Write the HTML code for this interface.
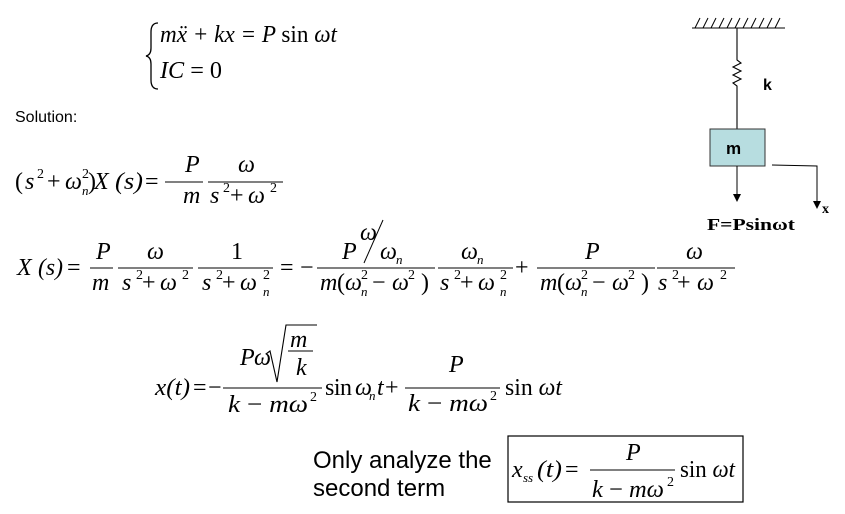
<!DOCTYPE html>
<html><head><meta charset="utf-8"><style>
html,body{margin:0;padding:0;background:#fff;}
svg{display:block}
text{font-family:"Liberation Serif",serif;fill:#000}
.i{font-style:italic;font-size:24px}
.n{font-size:24px}
.p{font-size:14px;font-style:normal}
.b{font-size:13px;font-style:italic}
.sans{font-family:"Liberation Sans",sans-serif}
line{stroke:#000;stroke-width:1}
</style></head><body>
<svg width="845" height="514" viewBox="0 0 845 514">
<g>
<path d="M158,23 Q151,23 151,32 L151,48 Q151,55 146,56 Q151,57 151,64 L151,80 Q151,89 158,89" fill="none" stroke="#000" stroke-width="1.3"/>
<text class="i" x="160" y="42" textLength="177" lengthAdjust="spacingAndGlyphs">mẍ + kx = P <tspan font-style="normal">sin</tspan> ωt</text>
<text class="i" x="160" y="78" textLength="62" lengthAdjust="spacingAndGlyphs">IC <tspan font-style="normal">= 0</tspan></text>
</g>
<text class="sans" x="15" y="122" font-size="16">Solution:</text>

<g>
<text class="n" x="15" y="189">(</text><text class="i" x="25" y="189">s</text><text class="p" x="37" y="178">2</text>
<text class="n" x="47" y="189" textLength="15">+</text><text class="i" x="65" y="189">ω</text><text class="p" x="82" y="178">2</text><text class="b" x="82" y="195">n</text>
<text class="n" x="88" y="189">)</text><text class="i" x="94" y="189">X</text><text class="i" x="115" y="189" textLength="28" lengthAdjust="spacingAndGlyphs">(s)</text>
<text class="n" x="145" y="189" textLength="15">=</text>
<line x1="165" y1="182" x2="203" y2="182"/><text class="i" x="185" y="172">P</text><text class="i" x="183" y="203">m</text>
<line x1="208" y1="182" x2="283" y2="182"/><text class="i" x="238" y="172">ω</text>
<text class="i" x="210" y="203">s</text><text class="p" x="223" y="192">2</text><text class="n" x="230" y="203" textLength="14">+</text><text class="i" x="248" y="203">ω</text><text class="p" x="270" y="192">2</text>
</g>

<g>
<text class="i" x="17" y="275">X</text><text class="i" x="38" y="275" textLength="25" lengthAdjust="spacingAndGlyphs">(s)</text><text class="n" x="67" y="275" textLength="15">=</text>
<line x1="90" y1="268" x2="113" y2="268"/><text class="i" x="96" y="259">P</text><text class="i" x="92" y="290">m</text>
<line x1="118" y1="268" x2="193" y2="268"/><text class="i" x="147" y="259">ω</text>
<text class="i" x="122" y="290">s</text><text class="p" x="136" y="279">2</text><text class="n" x="142" y="290" textLength="13">+</text><text class="i" x="160" y="290">ω</text><text class="p" x="182" y="279">2</text>
<line x1="198" y1="268" x2="273" y2="268"/><text class="n" x="231" y="259">1</text>
<text class="i" x="202" y="290">s</text><text class="p" x="216" y="279">2</text><text class="n" x="222" y="290" textLength="13">+</text><text class="i" x="240" y="290">ω</text><text class="p" x="263" y="279">2</text><text class="b" x="263" y="296">n</text>
<text class="n" x="280" y="275" textLength="17">=</text><text class="n" x="300" y="275" textLength="12">−</text>
<line x1="317" y1="268" x2="435" y2="268"/>
<text class="i" x="342" y="259">P</text><text class="i" x="360" y="240" font-size="18">ω</text>
<line x1="383" y1="220" x2="364" y2="263"/>
<text class="i" x="380" y="259">ω</text><text class="b" x="396" y="264">n</text>
<text class="i" x="320" y="290">m</text><text class="n" x="337" y="290">(</text><text class="i" x="345" y="290">ω</text><text class="p" x="361" y="279">2</text><text class="b" x="361" y="296">n</text><text class="n" x="372" y="290" textLength="12">−</text><text class="i" x="392" y="290">ω</text><text class="p" x="408" y="279">2</text><text class="n" x="421" y="290">)</text>
<line x1="438" y1="268" x2="513" y2="268"/><text class="i" x="461" y="259">ω</text><text class="b" x="477" y="264">n</text>
<text class="i" x="440" y="290">s</text><text class="p" x="454" y="279">2</text><text class="n" x="460" y="290" textLength="13">+</text><text class="i" x="478" y="290">ω</text><text class="p" x="500" y="279">2</text><text class="b" x="500" y="296">n</text>
<text class="n" x="515" y="275" textLength="16">+</text>
<line x1="537" y1="268" x2="655" y2="268"/><text class="i" x="585" y="259">P</text>
<text class="i" x="540" y="290">m</text><text class="n" x="557" y="290">(</text><text class="i" x="565" y="290">ω</text><text class="p" x="581" y="279">2</text><text class="b" x="581" y="296">n</text><text class="n" x="592" y="290" textLength="12">−</text><text class="i" x="612" y="290">ω</text><text class="p" x="628" y="279">2</text><text class="n" x="641" y="290">)</text>
<line x1="657" y1="268" x2="735" y2="268"/><text class="i" x="686" y="259">ω</text>
<text class="i" x="658" y="290">s</text><text class="p" x="672" y="279">2</text><text class="n" x="677" y="290" textLength="13">+</text><text class="i" x="697" y="290">ω</text><text class="p" x="720" y="279">2</text>
</g>

<g>
<text class="i" x="155" y="395" textLength="35" lengthAdjust="spacingAndGlyphs">x(t)</text><text class="n" x="193" y="395" textLength="14">=</text><text class="n" x="208" y="395" textLength="10">−</text>
<line x1="223" y1="388" x2="322" y2="388"/>
<text class="i" x="240" y="365">P</text><text class="i" x="254" y="365">ω</text>
<path d="M266,354 L270,351 L277,382 L286,325 L317,325" fill="none" stroke="#000" stroke-width="1.1"/>
<text class="i" x="290" y="347">m</text><line x1="288" y1="351" x2="313" y2="351"/><text class="i" x="296" y="375">k</text>
<text class="i" x="228" y="412" textLength="80" lengthAdjust="spacingAndGlyphs">k <tspan font-style="normal">−</tspan> mω</text><text class="p" x="310" y="401">2</text>
<text class="n" x="325" y="395" textLength="27">sin</text><text class="i" x="355" y="395">ω</text><text class="b" x="369" y="400">n</text><text class="i" x="377" y="395">t</text>
<text class="n" x="385" y="395" textLength="15">+</text>
<line x1="405" y1="388" x2="500" y2="388"/><text class="i" x="449" y="372">P</text>
<text class="i" x="408" y="411" textLength="80" lengthAdjust="spacingAndGlyphs">k <tspan font-style="normal">−</tspan> mω</text><text class="p" x="490" y="400">2</text>
<text class="i" x="505" y="395" textLength="57" lengthAdjust="spacingAndGlyphs"><tspan font-style="normal">sin</tspan> ωt</text>
</g>

<text class="sans" x="313" y="468" font-size="24">Only analyze the</text>
<text class="sans" x="313" y="496" font-size="24">second term</text>
<g>
<rect x="508" y="436" width="235" height="66" fill="none" stroke="#000" stroke-width="1.2"/>
<text class="i" x="512" y="477">x</text><text class="b" x="523" y="482" font-size="11">ss</text>
<text class="i" x="537" y="477" textLength="25" lengthAdjust="spacingAndGlyphs">(t)</text><text class="n" x="565" y="477" textLength="17">=</text>
<line x1="590" y1="470" x2="675" y2="470"/><text class="i" x="626" y="460">P</text>
<text class="i" x="592" y="497" textLength="72" lengthAdjust="spacingAndGlyphs">k <tspan font-style="normal">−</tspan> mω</text><text class="p" x="667" y="486">2</text>
<text class="i" x="680" y="477" textLength="55" lengthAdjust="spacingAndGlyphs"><tspan font-style="normal">sin</tspan> ωt</text>
</g>

<g>
<line x1="692" y1="28" x2="785" y2="28" stroke-width="1.2"/>
<path d="M695,28 l5,-10 M703,28 l5,-10 M711,28 l5,-10 M719,28 l5,-10 M727,28 l5,-10 M735,28 l5,-10 M743,28 l5,-10 M751,28 l5,-10 M759,28 l5,-10 M767,28 l5,-10 M775,28 l5,-10" stroke="#000" stroke-width="1"/>
<path d="M737,28 L737,60 L741,63 L733,67 L741,71 L733,75 L741,79 L733,83 L737,86 L737,129" fill="none" stroke="#000" stroke-width="1.1"/>
<text class="sans" x="763" y="90" font-weight="bold" font-size="16">k</text>
<rect x="710" y="129" width="55" height="37" fill="#b7dde0" stroke="#333"/>
<text class="sans" x="726" y="154" font-weight="bold" font-size="17">m</text>
<line x1="737" y1="166" x2="737" y2="195"/>
<path d="M733,194 L741,194 L737,202 Z" fill="#000"/>
<path d="M772,165 L817,166 L817,202" fill="none" stroke="#000"/>
<path d="M813,201 L821,201 L817,209 Z" fill="#000"/>
<text x="822" y="213" font-weight="bold" font-size="14">x</text>
<text x="707" y="230" font-weight="bold" font-size="17" textLength="88" lengthAdjust="spacingAndGlyphs">F=Psinωt</text>
</g>
</svg>
</body></html>
